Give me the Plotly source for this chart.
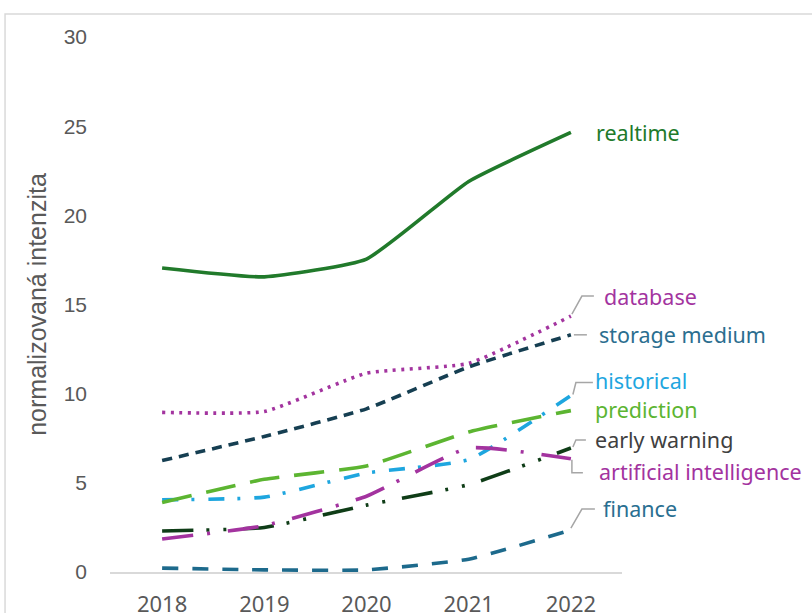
import plotly.graph_objects as go

# Years on the horizontal axis
years = [2018, 2019, 2020, 2021, 2022]

# Normalised intensity of each term per year
realtime = [17.05, 16.55, 17.55, 21.9, 24.65]
database = [8.95, 9.0, 11.15, 11.7, 14.35]
storage_medium = [6.25, 7.6, 9.15, 11.5, 13.3]
historical = [4.05, 4.2, 5.55, 6.3, 9.9]
prediction = [3.9, 5.2, 5.95, 7.85, 9.05]
early_warning = [2.3, 2.5, 3.75, 4.9, 6.95]
artificial_intelligence = [1.85, 2.6, 4.25, 6.95, 6.35]
finance = [0.22, 0.12, 0.12, 0.72, 2.35]

y_ticks = [0, 5, 10, 15, 20, 25, 30]

AXIS_GREY = "#595959"
LEADER_GREY = "#a6a6a6"

# name, values, line colour, label colour, dash pattern,
# label offset (px from last point), leader path (px from last point, +y up)
series = [
    ("realtime", realtime, "#217a2b", "#217a2b", "solid", (23, 0), None),
    ("database", database, "#a3349f", "#a3349f", "3px,5.5px", (31, 20),
     "M 1,2 L 11,20 L 23,20"),
    ("storage medium", storage_medium, "#163f52", "#2b6e8f", "10px,7px", (26, 0),
     "M 3,0 L 16,0"),
    ("historical", historical, "#1ea6df", "#1ea6df", "16px,13px,3px,14px", (22, 15),
     "M 2,1 L 5,13 L 22,13"),
    ("prediction", prediction, "#5cb531", "#5cb531", "30px,15px", (22, 1), None),
    ("early warning", early_warning, "#0f3d17", "#404040",
     "31px,13px,3px,14px,3px,17px", (22, 9), "M 2,1 L 5,8 L 15,8"),
    ("artificial intelligence", artificial_intelligence, "#a3339f", "#a3339f",
     "31px,14px,3px,18px", (26, -13), "M 1,-1 L 1,-14 L 12,-14"),
    ("finance", finance, "#1d6a8c", "#2a6f91", "16px,14px", (30, 22),
     "M 0,2 L 11,21 L 24,21"),
]

fig = go.Figure()
annotations = []
shapes = []

for name, vals, color, label_color, dash, (dx, dy), leader in series:
    fig.add_trace(go.Scatter(
        x=years, y=vals, mode="lines", name=name,
        line=dict(color=color, width=3.6, dash=dash, shape="spline", smoothing=0.45),
        showlegend=False, hoverinfo="x+y+name",
    ))
    annotations.append(dict(
        x=years[-1], y=vals[-1], xref="x", yref="y",
        text=name, showarrow=False, xanchor="left", yanchor="middle",
        xshift=dx, yshift=dy,
        font=dict(family="Noto Sans", size=21.5, color=label_color),
    ))
    if leader:
        shapes.append(dict(
            type="path", xref="x", yref="y",
            xsizemode="pixel", ysizemode="pixel",
            xanchor=years[-1], yanchor=vals[-1],
            path=leader, line=dict(color=LEADER_GREY, width=1.5),
        ))

# light frame around the chart area
shapes.append(dict(
    type="rect", xref="paper", yref="paper",
    x0=-0.205, x1=1.4, y0=-0.1, y1=1.043,
    line=dict(color="#d9d9d9", width=1.5), fillcolor="rgba(0,0,0,0)", layer="below",
))

fig.update_layout(
    width=812, height=613,
    margin=dict(l=110, r=190, t=37, b=41, autoexpand=False),
    paper_bgcolor="white", plot_bgcolor="white",
    annotations=annotations, shapes=shapes,
    xaxis=dict(
        range=[2017.49, 2022.5], tickmode="array", tickvals=years,
        ticktext=[str(y) for y in years],
        showgrid=False, zeroline=False, showline=True,
        linecolor="#d9d9d9", linewidth=1.5, ticks="",
        tickfont=dict(family="Noto Sans", size=22, color=AXIS_GREY),
        ticklabelstandoff=12,
    ),
    yaxis=dict(
        range=[0, 30], tickmode="array", tickvals=y_ticks,
        showgrid=False, zeroline=False, showline=False, ticks="",
        tickfont=dict(family="Liberation Sans", size=21, color=AXIS_GREY),
        ticklabelstandoff=22,
        title=dict(text="normalizovaná intenzita", standoff=9,
                   font=dict(family="Liberation Sans", size=25, color=AXIS_GREY)),
    ),
)

fig.write_html("out.html")
